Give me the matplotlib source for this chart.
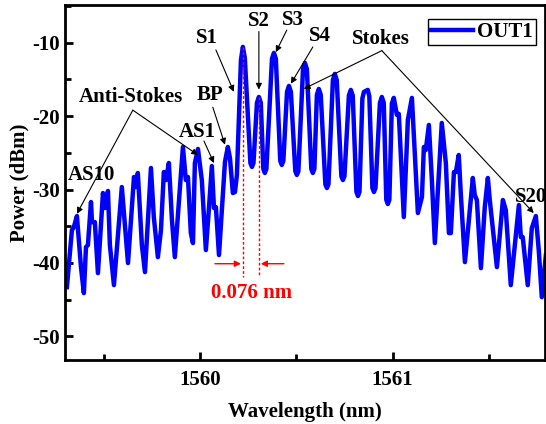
import numpy as np
import matplotlib.pyplot as plt
from matplotlib.ticker import MultipleLocator

plt.rcParams['font.family'] = ['Liberation Serif', 'DejaVu Serif']
plt.rcParams['font.weight'] = 'bold'
plt.rcParams['axes.labelweight'] = 'bold'
plt.rcParams['font.size'] = 15

# spectrum OUT1
wavelength = [1559.310, 1559.336, 1559.346, 1559.362, 1559.383, 1559.398, 1559.409, 1559.419,
              1559.435, 1559.440, 1559.455, 1559.471, 1559.497, 1559.507, 1559.523, 1559.533,
              1559.554, 1559.595, 1559.627, 1559.658, 1559.668, 1559.678, 1559.699, 1559.715,
              1559.746, 1559.761, 1559.782, 1559.798, 1559.813, 1559.824, 1559.839, 1559.855,
              1559.870, 1559.912, 1559.927, 1559.938, 1559.953, 1559.964, 1559.974, 1559.990,
              1560.010, 1560.031, 1560.047, 1560.062, 1560.073, 1560.083, 1560.099, 1560.130,
              1560.145, 1560.156, 1560.171, 1560.182, 1560.192, 1560.213, 1560.223, 1560.233,
              1560.262, 1560.270, 1560.278, 1560.296, 1560.306, 1560.316,
              1560.329, 1560.337, 1560.345, 1560.374, 1560.384, 1560.394,
              1560.417, 1560.425, 1560.433, 1560.452, 1560.462, 1560.472,
              1560.495, 1560.503, 1560.511, 1560.535, 1560.545, 1560.555,
              1560.578, 1560.586, 1560.594, 1560.607, 1560.617, 1560.627,
              1560.651, 1560.659, 1560.667, 1560.690, 1560.700, 1560.710,
              1560.734, 1560.742, 1560.750, 1560.773, 1560.783, 1560.793,
              1560.812, 1560.820, 1560.828, 1560.843, 1560.851, 1560.871, 1560.879,
              1560.895, 1560.903, 1560.911, 1560.934, 1560.944, 1560.954,
              1560.967, 1560.975, 1560.983, 1560.996, 1561.006, 1561.022, 1561.032, 1561.058,
              1561.079, 1561.100, 1561.131, 1561.152, 1561.162, 1561.172, 1561.188, 1561.203,
              1561.219, 1561.255, 1561.276, 1561.292, 1561.302, 1561.318, 1561.328, 1561.343,
              1561.354, 1561.375, 1561.416, 1561.426, 1561.437, 1561.458, 1561.478, 1561.494,
              1561.504, 1561.541, 1561.572, 1561.587, 1561.613, 1561.655, 1561.665, 1561.675,
              1561.701, 1561.722, 1561.743, 1561.758, 1561.774, 1561.795]
power = [-43.28, -35.52, -35.11, -33.61, -40.56, -44.10, -37.83, -37.56,
         -31.70, -34.43, -34.43, -41.38, -30.48, -32.52, -30.20, -37.56,
         -43.01, -29.66, -40.01, -28.30, -29.66, -27.75, -37.56, -41.24,
         -27.07, -33.75, -39.20, -35.52, -27.62, -28.71, -26.39, -34.16,
         -39.20, -24.21, -28.71, -28.30, -35.93, -37.29, -26.39, -24.48,
         -28.71, -38.24, -32.52, -26.80, -32.52, -32.38, -38.92, -26.25,
         -24.21, -25.71, -30.48, -30.34, -28.02, -12.36, -10.59, -12.08,
         -26.40, -26.93, -26.40, -18.20, -17.40, -18.20,
         -27.20, -27.75, -27.20, -12.20, -11.40, -12.20,
         -26.10, -26.66, -26.10, -16.70, -15.90, -16.70,
         -27.50, -28.02, -27.50, -13.60, -12.77, -13.60,
         -27.20, -27.75, -27.20, -17.10, -16.31, -17.10,
         -29.30, -29.80, -29.30, -15.10, -14.26, -15.10,
         -28.20, -28.71, -28.20, -17.20, -16.44, -17.20,
         -30.30, -30.89, -30.30, -17.60, -16.72, -16.44, -17.30,
         -29.80, -30.34, -29.80, -18.20, -17.40, -18.20,
         -31.40, -31.98, -31.40, -18.30, -17.53, -19.85, -19.71, -33.75,
         -20.53, -17.53, -33.20, -31.02, -24.21, -24.62, -21.21, -28.43,
         -37.29, -20.94, -26.39, -35.93, -35.93, -27.62, -27.62, -25.30,
         -30.75, -39.88, -28.43, -30.75, -31.43, -40.70, -32.38, -28.43,
         -31.43, -40.56, -31.43, -32.79, -43.01, -32.11, -36.47, -36.47,
         -43.01, -35.25, -33.61, -38.24, -44.65, -38.92]

# S1 and S2 positions for the spacing mark
s1_s2 = [1560.223, 1560.306]
spacing_label = '0.076 nm'

fig = plt.figure(figsize=(5.46, 4.24), dpi=100)
ax = fig.add_axes([0.119, 0.151, 0.879, 0.837])

ax.plot(wavelength, power, color='#0000ff', linewidth=3.2,
        solid_joinstyle='round', label='OUT1')

ax.set_xlim(1559.30, 1561.79)
ax.set_ylim(-53.2, -4.9)
ax.xaxis.set_major_locator(MultipleLocator(1))
ax.xaxis.set_minor_locator(MultipleLocator(0.5))
ax.yaxis.set_major_locator(MultipleLocator(10))
ax.yaxis.set_minor_locator(MultipleLocator(5))
ax.tick_params(which='both', direction='in', width=2, top=False, right=False)
ax.tick_params(which='major', length=6, labelsize=15)
ax.tick_params(which='minor', length=4)
ax.tick_params(axis='x', which='major', pad=7)
for s in ax.spines.values():
    s.set_linewidth(2)
ax.set_xlabel('Wavelength (nm)', fontsize=15, labelpad=9)
ax.set_ylabel('Power (dBm)', fontsize=15, labelpad=2)
ax.xaxis.set_major_formatter(plt.FuncFormatter(lambda v, p: '%d' % v))
ax.yaxis.set_major_formatter(plt.FuncFormatter(lambda v, p: '%d' % v))

# arrows and labels
def arrow(tail, tip, color='black', lw=0.8):
    ax.annotate('', xy=tip, xytext=tail,
                arrowprops=dict(arrowstyle='-|>', color=color, lw=lw,
                                mutation_scale=9, shrinkA=0, shrinkB=0))

ax.text(1560.036, -9.4, 'S1', ha='center', va='center')
arrow((1560.083, -11.0), (1560.176, -16.7))
ax.text(1560.052, -17.1, 'BP', ha='center', va='center')
arrow((1560.067, -18.8), (1560.130, -23.9))
ax.text(1559.984, -22.2, 'AS1', ha='center', va='center')
arrow((1560.021, -23.4), (1560.073, -26.4))
ax.text(1559.642, -17.4, 'Anti-Stokes', ha='center', va='center')
arrow((1559.652, -19.2), (1559.362, -33.3))
arrow((1559.652, -19.2), (1559.990, -25.3))
ax.text(1559.440, -28.0, 'AS10', ha='center', va='center')
ax.text(1560.306, -7.0, 'S2', ha='center', va='center')
arrow((1560.306, -8.5), (1560.306, -16.4))
ax.text(1560.482, -6.9, 'S3', ha='center', va='center')
arrow((1560.451, -8.3), (1560.394, -11.3))
ax.text(1560.622, -9.1, 'S4', ha='center', va='center')
arrow((1560.586, -10.6), (1560.472, -15.6))
ax.text(1560.939, -9.5, 'Stokes', ha='center', va='center')
arrow((1560.944, -11.1), (1560.539, -16.3))
arrow((1560.944, -11.1), (1561.732, -33.2))
ax.text(1561.717, -31.0, 'S20', ha='center', va='center', clip_on=False)

# spacing between S1 and S2
for w in s1_s2:
    ax.plot([w, w], [power[wavelength.index(w)], -41.9], color='red',
            linestyle=(0, (2, 1.5)), linewidth=1)
arrow((1560.078, -40.1), (1560.213, -40.1), color='red', lw=1)
arrow((1560.436, -40.1), (1560.316, -40.1), color='red', lw=1)
ax.text(1560.270, -44.1, spacing_label, color='red', ha='center', va='center')

leg = ax.legend(loc='upper right', bbox_to_anchor=(0.99, 0.972), fontsize=15,
                fancybox=False, framealpha=1, edgecolor='black',
                handlelength=2.0, handletextpad=0.2, borderpad=0.15,
                borderaxespad=0.2)
leg.get_frame().set_linewidth(1)

fig.savefig('out.png', dpi=100)
